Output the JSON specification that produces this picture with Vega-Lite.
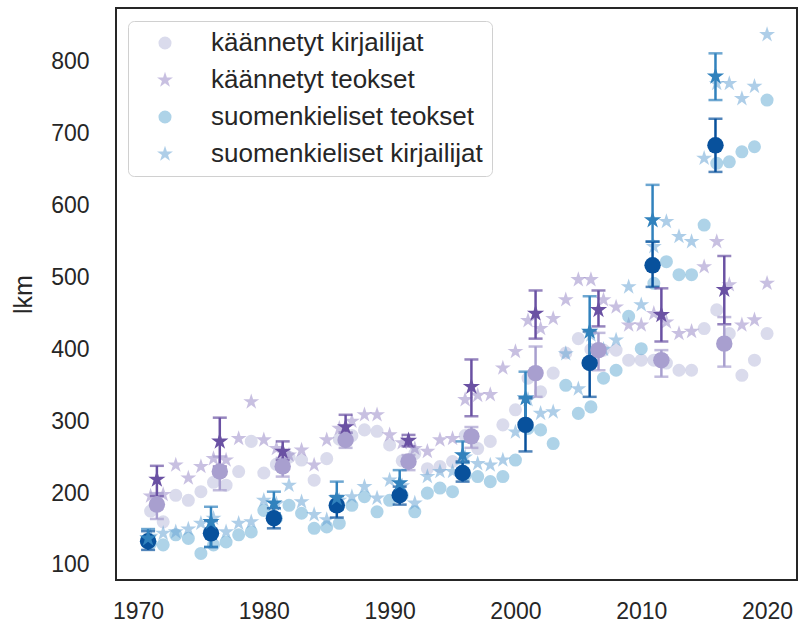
{
  "$schema": "https://vega.github.io/schema/vega-lite/v6.json",
  "width": 681,
  "height": 572,
  "autosize": {"type": "none"},
  "padding": {"left": 116, "top": 8, "right": 3, "bottom": 42},
  "config": {
    "font": "Liberation Sans",
    "view": {"stroke": "#262626", "strokeWidth": 2},
    "axis": {"grid": false, "ticks": false, "domain": false, "labelColor": "#262626", "labelFontSize": 23, "titleColor": "#262626", "titleFontSize": 25, "titleFontWeight": "normal"}
  },
  "datasets": {
    "pisteet": [
      {"vuosi":1971,"sarja":"käännetyt kirjailijat","lkm":175},{"vuosi":1972,"sarja":"käännetyt kirjailijat","lkm":160},{"vuosi":1973,"sarja":"käännetyt kirjailijat","lkm":197},{"vuosi":1974,"sarja":"käännetyt kirjailijat","lkm":190},{"vuosi":1975,"sarja":"käännetyt kirjailijat","lkm":202},{"vuosi":1976,"sarja":"käännetyt kirjailijat","lkm":215},{"vuosi":1977,"sarja":"käännetyt kirjailijat","lkm":211},{"vuosi":1978,"sarja":"käännetyt kirjailijat","lkm":230},{"vuosi":1979,"sarja":"käännetyt kirjailijat","lkm":272},{"vuosi":1980,"sarja":"käännetyt kirjailijat","lkm":228},
      {"vuosi":1981,"sarja":"käännetyt kirjailijat","lkm":240},{"vuosi":1982,"sarja":"käännetyt kirjailijat","lkm":250},{"vuosi":1983,"sarja":"käännetyt kirjailijat","lkm":246},{"vuosi":1984,"sarja":"käännetyt kirjailijat","lkm":218},{"vuosi":1985,"sarja":"käännetyt kirjailijat","lkm":248},{"vuosi":1986,"sarja":"käännetyt kirjailijat","lkm":275},{"vuosi":1987,"sarja":"käännetyt kirjailijat","lkm":280},{"vuosi":1988,"sarja":"käännetyt kirjailijat","lkm":288},{"vuosi":1989,"sarja":"käännetyt kirjailijat","lkm":286},{"vuosi":1990,"sarja":"käännetyt kirjailijat","lkm":267},
      {"vuosi":1991,"sarja":"käännetyt kirjailijat","lkm":245},{"vuosi":1992,"sarja":"käännetyt kirjailijat","lkm":255},{"vuosi":1993,"sarja":"käännetyt kirjailijat","lkm":234},{"vuosi":1994,"sarja":"käännetyt kirjailijat","lkm":237},{"vuosi":1995,"sarja":"käännetyt kirjailijat","lkm":244},{"vuosi":1996,"sarja":"käännetyt kirjailijat","lkm":280},{"vuosi":1997,"sarja":"käännetyt kirjailijat","lkm":262},{"vuosi":1998,"sarja":"käännetyt kirjailijat","lkm":272},{"vuosi":1999,"sarja":"käännetyt kirjailijat","lkm":295},{"vuosi":2000,"sarja":"käännetyt kirjailijat","lkm":316},
      {"vuosi":2001,"sarja":"käännetyt kirjailijat","lkm":360},{"vuosi":2002,"sarja":"käännetyt kirjailijat","lkm":341},{"vuosi":2003,"sarja":"käännetyt kirjailijat","lkm":367},{"vuosi":2004,"sarja":"käännetyt kirjailijat","lkm":395},{"vuosi":2005,"sarja":"käännetyt kirjailijat","lkm":415},{"vuosi":2006,"sarja":"käännetyt kirjailijat","lkm":400},{"vuosi":2007,"sarja":"käännetyt kirjailijat","lkm":399},{"vuosi":2008,"sarja":"käännetyt kirjailijat","lkm":399},{"vuosi":2009,"sarja":"käännetyt kirjailijat","lkm":385},{"vuosi":2010,"sarja":"käännetyt kirjailijat","lkm":385},
      {"vuosi":2011,"sarja":"käännetyt kirjailijat","lkm":385},{"vuosi":2012,"sarja":"käännetyt kirjailijat","lkm":381},{"vuosi":2013,"sarja":"käännetyt kirjailijat","lkm":371},{"vuosi":2014,"sarja":"käännetyt kirjailijat","lkm":371},{"vuosi":2015,"sarja":"käännetyt kirjailijat","lkm":429},{"vuosi":2016,"sarja":"käännetyt kirjailijat","lkm":455},{"vuosi":2017,"sarja":"käännetyt kirjailijat","lkm":422},{"vuosi":2018,"sarja":"käännetyt kirjailijat","lkm":364},{"vuosi":2019,"sarja":"käännetyt kirjailijat","lkm":385},{"vuosi":2020,"sarja":"käännetyt kirjailijat","lkm":422},

      {"vuosi":1971,"sarja":"käännetyt teokset","lkm":196},{"vuosi":1972,"sarja":"käännetyt teokset","lkm":198},{"vuosi":1973,"sarja":"käännetyt teokset","lkm":239},{"vuosi":1974,"sarja":"käännetyt teokset","lkm":221},{"vuosi":1975,"sarja":"käännetyt teokset","lkm":237},{"vuosi":1976,"sarja":"käännetyt teokset","lkm":248},{"vuosi":1977,"sarja":"käännetyt teokset","lkm":246},{"vuosi":1978,"sarja":"käännetyt teokset","lkm":276},{"vuosi":1979,"sarja":"käännetyt teokset","lkm":327},{"vuosi":1980,"sarja":"käännetyt teokset","lkm":274},
      {"vuosi":1981,"sarja":"käännetyt teokset","lkm":262},{"vuosi":1982,"sarja":"käännetyt teokset","lkm":253},{"vuosi":1983,"sarja":"käännetyt teokset","lkm":260},{"vuosi":1984,"sarja":"käännetyt teokset","lkm":239},{"vuosi":1985,"sarja":"käännetyt teokset","lkm":274},{"vuosi":1986,"sarja":"käännetyt teokset","lkm":290},{"vuosi":1987,"sarja":"käännetyt teokset","lkm":300},{"vuosi":1988,"sarja":"käännetyt teokset","lkm":309},{"vuosi":1989,"sarja":"käännetyt teokset","lkm":309},{"vuosi":1990,"sarja":"käännetyt teokset","lkm":281},
      {"vuosi":1991,"sarja":"käännetyt teokset","lkm":270},{"vuosi":1992,"sarja":"käännetyt teokset","lkm":262},{"vuosi":1993,"sarja":"käännetyt teokset","lkm":258},{"vuosi":1994,"sarja":"käännetyt teokset","lkm":274},{"vuosi":1995,"sarja":"käännetyt teokset","lkm":276},{"vuosi":1996,"sarja":"käännetyt teokset","lkm":330},{"vuosi":1997,"sarja":"käännetyt teokset","lkm":336},{"vuosi":1998,"sarja":"käännetyt teokset","lkm":337},{"vuosi":1999,"sarja":"käännetyt teokset","lkm":374},{"vuosi":2000,"sarja":"käännetyt teokset","lkm":397},
      {"vuosi":2001,"sarja":"käännetyt teokset","lkm":440},{"vuosi":2002,"sarja":"käännetyt teokset","lkm":429},{"vuosi":2003,"sarja":"käännetyt teokset","lkm":443},{"vuosi":2004,"sarja":"käännetyt teokset","lkm":469},{"vuosi":2005,"sarja":"käännetyt teokset","lkm":497},{"vuosi":2006,"sarja":"käännetyt teokset","lkm":497},{"vuosi":2007,"sarja":"käännetyt teokset","lkm":469},{"vuosi":2008,"sarja":"käännetyt teokset","lkm":459},{"vuosi":2009,"sarja":"käännetyt teokset","lkm":434},{"vuosi":2010,"sarja":"käännetyt teokset","lkm":434},
      {"vuosi":2011,"sarja":"käännetyt teokset","lkm":450},{"vuosi":2012,"sarja":"käännetyt teokset","lkm":438},{"vuosi":2013,"sarja":"käännetyt teokset","lkm":422},{"vuosi":2014,"sarja":"käännetyt teokset","lkm":425},{"vuosi":2015,"sarja":"käännetyt teokset","lkm":515},{"vuosi":2016,"sarja":"käännetyt teokset","lkm":550},{"vuosi":2017,"sarja":"käännetyt teokset","lkm":490},{"vuosi":2018,"sarja":"käännetyt teokset","lkm":434},{"vuosi":2019,"sarja":"käännetyt teokset","lkm":441},{"vuosi":2020,"sarja":"käännetyt teokset","lkm":492},

      {"vuosi":1971,"sarja":"suomenkieliset teokset","lkm":130},{"vuosi":1972,"sarja":"suomenkieliset teokset","lkm":128},{"vuosi":1973,"sarja":"suomenkieliset teokset","lkm":142},{"vuosi":1974,"sarja":"suomenkieliset teokset","lkm":137},{"vuosi":1975,"sarja":"suomenkieliset teokset","lkm":116},{"vuosi":1976,"sarja":"suomenkieliset teokset","lkm":128},{"vuosi":1977,"sarja":"suomenkieliset teokset","lkm":132},{"vuosi":1978,"sarja":"suomenkieliset teokset","lkm":142},{"vuosi":1979,"sarja":"suomenkieliset teokset","lkm":146},{"vuosi":1980,"sarja":"suomenkieliset teokset","lkm":176},
      {"vuosi":1981,"sarja":"suomenkieliset teokset","lkm":165},{"vuosi":1982,"sarja":"suomenkieliset teokset","lkm":183},{"vuosi":1983,"sarja":"suomenkieliset teokset","lkm":172},{"vuosi":1984,"sarja":"suomenkieliset teokset","lkm":151},{"vuosi":1985,"sarja":"suomenkieliset teokset","lkm":153},{"vuosi":1986,"sarja":"suomenkieliset teokset","lkm":158},{"vuosi":1987,"sarja":"suomenkieliset teokset","lkm":183},{"vuosi":1988,"sarja":"suomenkieliset teokset","lkm":195},{"vuosi":1989,"sarja":"suomenkieliset teokset","lkm":174},{"vuosi":1990,"sarja":"suomenkieliset teokset","lkm":190},
      {"vuosi":1991,"sarja":"suomenkieliset teokset","lkm":197},{"vuosi":1992,"sarja":"suomenkieliset teokset","lkm":174},{"vuosi":1993,"sarja":"suomenkieliset teokset","lkm":200},{"vuosi":1994,"sarja":"suomenkieliset teokset","lkm":207},{"vuosi":1995,"sarja":"suomenkieliset teokset","lkm":202},{"vuosi":1996,"sarja":"suomenkieliset teokset","lkm":225},{"vuosi":1997,"sarja":"suomenkieliset teokset","lkm":223},{"vuosi":1998,"sarja":"suomenkieliset teokset","lkm":216},{"vuosi":1999,"sarja":"suomenkieliset teokset","lkm":223},{"vuosi":2000,"sarja":"suomenkieliset teokset","lkm":246},
      {"vuosi":2001,"sarja":"suomenkieliset teokset","lkm":290},{"vuosi":2002,"sarja":"suomenkieliset teokset","lkm":288},{"vuosi":2003,"sarja":"suomenkieliset teokset","lkm":269},{"vuosi":2004,"sarja":"suomenkieliset teokset","lkm":350},{"vuosi":2005,"sarja":"suomenkieliset teokset","lkm":311},{"vuosi":2006,"sarja":"suomenkieliset teokset","lkm":320},{"vuosi":2007,"sarja":"suomenkieliset teokset","lkm":360},{"vuosi":2008,"sarja":"suomenkieliset teokset","lkm":371},{"vuosi":2009,"sarja":"suomenkieliset teokset","lkm":446},{"vuosi":2010,"sarja":"suomenkieliset teokset","lkm":401},
      {"vuosi":2011,"sarja":"suomenkieliset teokset","lkm":492},{"vuosi":2012,"sarja":"suomenkieliset teokset","lkm":522},{"vuosi":2013,"sarja":"suomenkieliset teokset","lkm":504},{"vuosi":2014,"sarja":"suomenkieliset teokset","lkm":504},{"vuosi":2015,"sarja":"suomenkieliset teokset","lkm":573},{"vuosi":2016,"sarja":"suomenkieliset teokset","lkm":659},{"vuosi":2017,"sarja":"suomenkieliset teokset","lkm":661},{"vuosi":2018,"sarja":"suomenkieliset teokset","lkm":675},{"vuosi":2019,"sarja":"suomenkieliset teokset","lkm":682},{"vuosi":2020,"sarja":"suomenkieliset teokset","lkm":747},

      {"vuosi":1971,"sarja":"suomenkieliset kirjailijat","lkm":140},{"vuosi":1972,"sarja":"suomenkieliset kirjailijat","lkm":144},{"vuosi":1973,"sarja":"suomenkieliset kirjailijat","lkm":146},{"vuosi":1974,"sarja":"suomenkieliset kirjailijat","lkm":150},{"vuosi":1975,"sarja":"suomenkieliset kirjailijat","lkm":158},{"vuosi":1976,"sarja":"suomenkieliset kirjailijat","lkm":165},{"vuosi":1977,"sarja":"suomenkieliset kirjailijat","lkm":146},{"vuosi":1978,"sarja":"suomenkieliset kirjailijat","lkm":158},{"vuosi":1979,"sarja":"suomenkieliset kirjailijat","lkm":160},{"vuosi":1980,"sarja":"suomenkieliset kirjailijat","lkm":190},
      {"vuosi":1981,"sarja":"suomenkieliset kirjailijat","lkm":185},{"vuosi":1982,"sarja":"suomenkieliset kirjailijat","lkm":211},{"vuosi":1983,"sarja":"suomenkieliset kirjailijat","lkm":188},{"vuosi":1984,"sarja":"suomenkieliset kirjailijat","lkm":170},{"vuosi":1985,"sarja":"suomenkieliset kirjailijat","lkm":163},{"vuosi":1986,"sarja":"suomenkieliset kirjailijat","lkm":190},{"vuosi":1987,"sarja":"suomenkieliset kirjailijat","lkm":195},{"vuosi":1988,"sarja":"suomenkieliset kirjailijat","lkm":209},{"vuosi":1989,"sarja":"suomenkieliset kirjailijat","lkm":193},{"vuosi":1990,"sarja":"suomenkieliset kirjailijat","lkm":218},
      {"vuosi":1991,"sarja":"suomenkieliset kirjailijat","lkm":210},{"vuosi":1992,"sarja":"suomenkieliset kirjailijat","lkm":186},{"vuosi":1993,"sarja":"suomenkieliset kirjailijat","lkm":223},{"vuosi":1994,"sarja":"suomenkieliset kirjailijat","lkm":230},{"vuosi":1995,"sarja":"suomenkieliset kirjailijat","lkm":230},{"vuosi":1996,"sarja":"suomenkieliset kirjailijat","lkm":250},{"vuosi":1997,"sarja":"suomenkieliset kirjailijat","lkm":241},{"vuosi":1998,"sarja":"suomenkieliset kirjailijat","lkm":239},{"vuosi":1999,"sarja":"suomenkieliset kirjailijat","lkm":246},{"vuosi":2000,"sarja":"suomenkieliset kirjailijat","lkm":285},
      {"vuosi":2001,"sarja":"suomenkieliset kirjailijat","lkm":330},{"vuosi":2002,"sarja":"suomenkieliset kirjailijat","lkm":311},{"vuosi":2003,"sarja":"suomenkieliset kirjailijat","lkm":313},{"vuosi":2004,"sarja":"suomenkieliset kirjailijat","lkm":394},{"vuosi":2005,"sarja":"suomenkieliset kirjailijat","lkm":345},{"vuosi":2006,"sarja":"suomenkieliset kirjailijat","lkm":420},{"vuosi":2007,"sarja":"suomenkieliset kirjailijat","lkm":400},{"vuosi":2008,"sarja":"suomenkieliset kirjailijat","lkm":413},{"vuosi":2009,"sarja":"suomenkieliset kirjailijat","lkm":487},{"vuosi":2010,"sarja":"suomenkieliset kirjailijat","lkm":462},
      {"vuosi":2011,"sarja":"suomenkieliset kirjailijat","lkm":543},{"vuosi":2012,"sarja":"suomenkieliset kirjailijat","lkm":578},{"vuosi":2013,"sarja":"suomenkieliset kirjailijat","lkm":557},{"vuosi":2014,"sarja":"suomenkieliset kirjailijat","lkm":550},{"vuosi":2015,"sarja":"suomenkieliset kirjailijat","lkm":666},{"vuosi":2016,"sarja":"suomenkieliset kirjailijat","lkm":770},{"vuosi":2017,"sarja":"suomenkieliset kirjailijat","lkm":770},{"vuosi":2018,"sarja":"suomenkieliset kirjailijat","lkm":749},{"vuosi":2019,"sarja":"suomenkieliset kirjailijat","lkm":766},{"vuosi":2020,"sarja":"suomenkieliset kirjailijat","lkm":838}
    ],
    "keskiarvot": [
      {"vuosi":1970.8,"sarja":"suomenkieliset teokset","ka":133,"ala":121,"yla":147},
      {"vuosi":1975.8,"sarja":"suomenkieliset teokset","ka":144,"ala":125,"yla":162},
      {"vuosi":1980.8,"sarja":"suomenkieliset teokset","ka":165,"ala":151,"yla":179},
      {"vuosi":1985.8,"sarja":"suomenkieliset teokset","ka":183,"ala":166,"yla":196},
      {"vuosi":1990.8,"sarja":"suomenkieliset teokset","ka":197,"ala":184,"yla":209},
      {"vuosi":1995.8,"sarja":"suomenkieliset teokset","ka":228,"ala":216,"yla":244},
      {"vuosi":2000.8,"sarja":"suomenkieliset teokset","ka":295,"ala":258,"yla":332},
      {"vuosi":2005.9,"sarja":"suomenkieliset teokset","ka":381,"ala":334,"yla":425},
      {"vuosi":2010.9,"sarja":"suomenkieliset teokset","ka":517,"ala":487,"yla":550},
      {"vuosi":2015.9,"sarja":"suomenkieliset teokset","ka":684,"ala":647,"yla":721},
      {"vuosi":1970.8,"sarja":"suomenkieliset kirjailijat","ka":137,"ala":128,"yla":150},
      {"vuosi":1975.8,"sarja":"suomenkieliset kirjailijat","ka":160,"ala":125,"yla":181},
      {"vuosi":1980.8,"sarja":"suomenkieliset kirjailijat","ka":186,"ala":172,"yla":202},
      {"vuosi":1985.8,"sarja":"suomenkieliset kirjailijat","ka":193,"ala":177,"yla":216},
      {"vuosi":1990.8,"sarja":"suomenkieliset kirjailijat","ka":214,"ala":195,"yla":232},
      {"vuosi":1995.8,"sarja":"suomenkieliset kirjailijat","ka":253,"ala":242,"yla":272},
      {"vuosi":2000.8,"sarja":"suomenkieliset kirjailijat","ka":332,"ala":295,"yla":369},
      {"vuosi":2005.9,"sarja":"suomenkieliset kirjailijat","ka":425,"ala":381,"yla":474},
      {"vuosi":2010.9,"sarja":"suomenkieliset kirjailijat","ka":580,"ala":550,"yla":629},
      {"vuosi":2015.9,"sarja":"suomenkieliset kirjailijat","ka":780,"ala":747,"yla":812},
      {"vuosi":1971.5,"sarja":"käännetyt kirjailijat","ka":184,"ala":164,"yla":200},
      {"vuosi":1976.5,"sarja":"käännetyt kirjailijat","ka":230,"ala":204,"yla":251},
      {"vuosi":1981.5,"sarja":"käännetyt kirjailijat","ka":237,"ala":223,"yla":249},
      {"vuosi":1986.5,"sarja":"käännetyt kirjailijat","ka":274,"ala":263,"yla":284},
      {"vuosi":1991.5,"sarja":"käännetyt kirjailijat","ka":244,"ala":232,"yla":253},
      {"vuosi":1996.5,"sarja":"käännetyt kirjailijat","ka":279,"ala":263,"yla":292},
      {"vuosi":2001.6,"sarja":"käännetyt kirjailijat","ka":367,"ala":334,"yla":404},
      {"vuosi":2006.6,"sarja":"käännetyt kirjailijat","ka":399,"ala":371,"yla":423},
      {"vuosi":2011.6,"sarja":"käännetyt kirjailijat","ka":385,"ala":362,"yla":399},
      {"vuosi":2016.6,"sarja":"käännetyt kirjailijat","ka":408,"ala":376,"yla":445},
      {"vuosi":1971.5,"sarja":"käännetyt teokset","ka":219,"ala":196,"yla":238},
      {"vuosi":1976.5,"sarja":"käännetyt teokset","ka":272,"ala":237,"yla":305},
      {"vuosi":1981.5,"sarja":"käännetyt teokset","ka":258,"ala":246,"yla":272},
      {"vuosi":1986.5,"sarja":"käännetyt teokset","ka":292,"ala":284,"yla":309},
      {"vuosi":1991.5,"sarja":"käännetyt teokset","ka":273,"ala":265,"yla":281},
      {"vuosi":1996.5,"sarja":"käännetyt teokset","ka":348,"ala":307,"yla":386},
      {"vuosi":2001.6,"sarja":"käännetyt teokset","ka":450,"ala":415,"yla":482},
      {"vuosi":2006.6,"sarja":"käännetyt teokset","ka":455,"ala":432,"yla":482},
      {"vuosi":2011.6,"sarja":"käännetyt teokset","ka":448,"ala":411,"yla":485},
      {"vuosi":2016.6,"sarja":"käännetyt teokset","ka":483,"ala":435,"yla":530}
    ]
  },
  "resolve": {"scale": {"color": "independent", "shape": "independent", "size": "independent"}},
  "layer": [
    {
      "data": {"name": "pisteet"},
      "mark": {"type": "point", "filled": true, "opacity": 0.55, "strokeWidth": 0},
      "encoding": {
        "x": {"field": "vuosi", "type": "quantitative", "scale": {"domain": [1968.25, 2022.38], "nice": false, "zero": false}, "axis": {"title": null, "values": [1970, 1980, 1990, 2000, 2010, 2020], "format": "d", "labelPadding": 20}},
        "y": {"field": "lkm", "type": "quantitative", "title": "lkm", "scale": {"domain": [79.1, 875.1], "nice": false, "zero": false}, "axis": {"title": "lkm", "values": [100, 200, 300, 400, 500, 600, 700, 800], "labelPadding": 27, "titlePadding": 14}},
        "color": {"field": "sarja", "type": "nominal", "scale": {"domain": ["käännetyt kirjailijat", "käännetyt teokset", "suomenkieliset teokset", "suomenkieliset kirjailijat"], "range": ["#bcbddc", "#9a8cc8", "#6baed6", "#6ba6d6"]},
          "legend": {"title": null, "orient": "none", "legendX": 12, "legendY": 13, "strokeColor": "#d0d0d0", "fillColor": "#ffffff", "cornerRadius": 6, "padding": 9, "labelFontSize": 26, "labelLimit": 0, "labelColor": "#262626", "symbolOpacity": 0.55, "rowPadding": 11, "symbolOffset": 15, "labelOffset": 33, "symbolSize": 210, "symbolStrokeWidth": 0}},
        "shape": {"field": "sarja", "type": "nominal", "scale": {"domain": ["käännetyt kirjailijat", "käännetyt teokset", "suomenkieliset teokset", "suomenkieliset kirjailijat"], "range": ["circle", "M0,-1L0.2245,-0.309L0.951,-0.309L0.363,0.118L0.588,0.809L0,0.382L-0.588,0.809L-0.363,0.118L-0.951,-0.309L-0.2245,-0.309Z", "circle", "M0,-1L0.2245,-0.309L0.951,-0.309L0.363,0.118L0.588,0.809L0,0.382L-0.588,0.809L-0.363,0.118L-0.951,-0.309L-0.2245,-0.309Z"]}, "legend": null},
        "size": {"field": "sarja", "type": "nominal", "scale": {"type": "ordinal", "domain": ["käännetyt kirjailijat", "käännetyt teokset", "suomenkieliset teokset", "suomenkieliset kirjailijat"], "range": [170, 280, 170, 280]}, "legend": null}
      }
    },
    {
      "data": {"name": "keskiarvot"},
      "layer": [
        {
          "mark": {"type": "errorbar", "ticks": {"size": 14, "thickness": 2.5}, "rule": {"strokeWidth": 2.5}},
          "encoding": {
            "x": {"field": "vuosi", "type": "quantitative"},
            "y": {"field": "ala", "type": "quantitative", "title": "lkm"},
            "y2": {"field": "yla"},
            "color": {"field": "sarja", "type": "nominal", "scale": {"domain": ["käännetyt kirjailijat", "käännetyt teokset", "suomenkieliset teokset", "suomenkieliset kirjailijat"], "range": ["#a89fcf", "#6a51a3", "#08519c", "#3182bd"]}, "legend": null}
          }
        },
        {
          "mark": {"type": "point", "filled": true, "opacity": 1, "strokeWidth": 0},
          "encoding": {
            "x": {"field": "vuosi", "type": "quantitative"},
            "y": {"field": "ka", "type": "quantitative", "title": "lkm"},
            "color": {"field": "sarja", "type": "nominal", "scale": {"domain": ["käännetyt kirjailijat", "käännetyt teokset", "suomenkieliset teokset", "suomenkieliset kirjailijat"], "range": ["#a89fcf", "#6a51a3", "#08519c", "#3182bd"]}, "legend": null},
            "shape": {"field": "sarja", "type": "nominal", "scale": {"domain": ["käännetyt kirjailijat", "käännetyt teokset", "suomenkieliset teokset", "suomenkieliset kirjailijat"], "range": ["circle", "M0,-1L0.2245,-0.309L0.951,-0.309L0.363,0.118L0.588,0.809L0,0.382L-0.588,0.809L-0.363,0.118L-0.951,-0.309L-0.2245,-0.309Z", "circle", "M0,-1L0.2245,-0.309L0.951,-0.309L0.363,0.118L0.588,0.809L0,0.382L-0.588,0.809L-0.363,0.118L-0.951,-0.309L-0.2245,-0.309Z"]}, "legend": null},
            "size": {"field": "sarja", "type": "nominal", "scale": {"type": "ordinal", "domain": ["käännetyt kirjailijat", "käännetyt teokset", "suomenkieliset teokset", "suomenkieliset kirjailijat"], "range": [270, 330, 270, 330]}, "legend": null}
          }
        }
      ]
    }
  ]
}
